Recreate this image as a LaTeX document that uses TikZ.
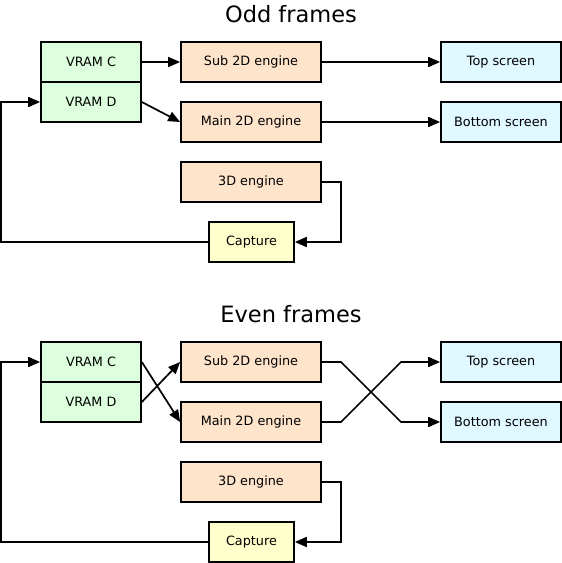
\documentclass[tikz,border=0pt]{standalone}
\usepackage{fontspec}
\setmainfont{DejaVu Sans}
\usetikzlibrary{arrows.meta}
\definecolor{vramc}{RGB}{221,255,221}
\definecolor{engc}{RGB}{255,228,204}
\definecolor{scrc}{RGB}{224,248,255}
\definecolor{capc}{RGB}{255,255,204}
\tikzset{
  box/.style={draw=black, line width=1.7pt, minimum height=40pt, inner sep=0pt, font=\fontsize{12.8}{14}\selectfont},
  vrambox/.style={box, fill=vramc, minimum width=100pt},
  engbox/.style={box, fill=engc, minimum width=140pt},
  scrbox/.style={box, fill=scrc, minimum width=120pt},
  capbox/.style={box, fill=capc, minimum width=85pt},
  titlebox/.style={font=\fontsize{22.5}{25}\selectfont, inner sep=0pt},
  arr/.style={line width=1.7pt, -{Triangle[length=12pt,width=10pt]}},
}
\begin{document}
\begin{tikzpicture}[x=1pt,y=-1pt]
\useasboundingbox (0,0) rectangle (562,563);
% Odd frames
\node[titlebox] (t1) at (291,14) {Odd frames};
\node[vrambox] (c1) at (91,62) {VRAM C};
\node[vrambox] (d1) at (91,102) {VRAM D};
\node[engbox] (s1) at (251,62) {Sub 2D engine};
\node[engbox] (m1) at (251,122) {Main 2D engine};
\node[scrbox] (top1) at (501,62) {Top screen};
\node[scrbox] (bot1) at (501,122) {Bottom screen};
\node[engbox] (e1) at (251,182) {3D engine};
\node[capbox] (p1) at (251.5,242) {Capture};
\draw[arr] (c1.east) -- (s1.west);
\draw[arr] (d1.east) -- (m1.west);
\draw[arr] (s1.east) -- (top1.west);
\draw[arr] (m1.east) -- (bot1.west);
\draw[arr] (e1.east) -- (341,182) -- (341,242) -- (p1.east);
\draw[arr] (p1.west) -- (1,242) -- (1,102) -- (d1.west);
% Even frames
\node[titlebox] (t2) at (291,314) {Even frames};
\node[vrambox] (c2) at (91,362) {VRAM C};
\node[vrambox] (d2) at (91,402) {VRAM D};
\node[engbox] (s2) at (251,362) {Sub 2D engine};
\node[engbox] (m2) at (251,422) {Main 2D engine};
\node[scrbox] (top2) at (501,362) {Top screen};
\node[scrbox] (bot2) at (501,422) {Bottom screen};
\node[engbox] (e2) at (251,482) {3D engine};
\node[capbox] (p2) at (251.5,542) {Capture};
\draw[arr] (c2.east) -- (m2.west);
\draw[arr] (d2.east) -- (s2.west);
\draw[arr] (s2.east) -- (341,362) -- (401,422) -- (bot2.west);
\draw[arr] (m2.east) -- (341,422) -- (401,362) -- (top2.west);
\draw[arr] (e2.east) -- (341,482) -- (341,542) -- (p2.east);
\draw[arr] (p2.west) -- (1,542) -- (1,362) -- (c2.west);
\end{tikzpicture}
\end{document}
